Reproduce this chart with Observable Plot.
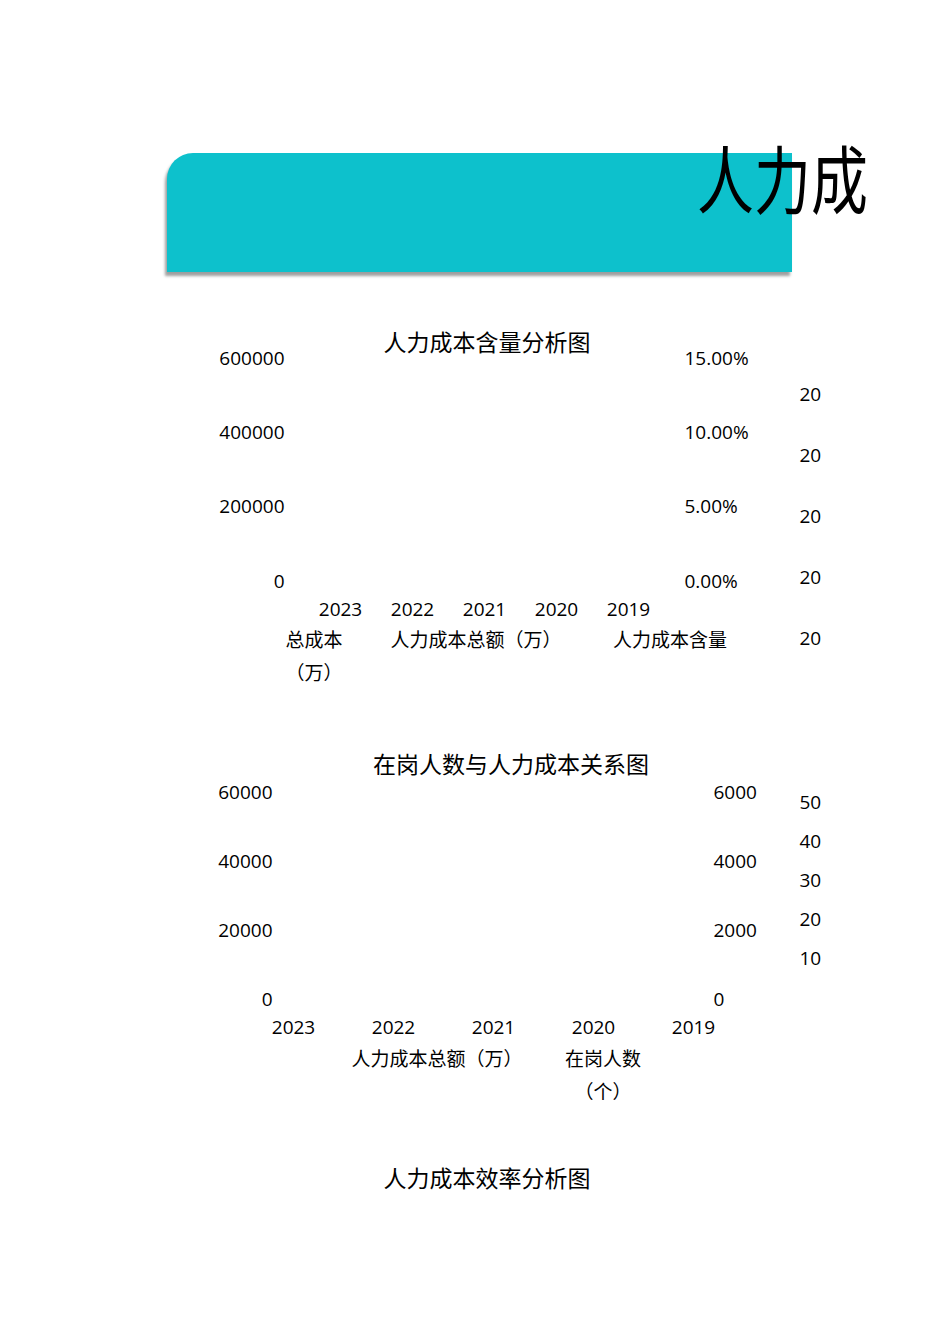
<!DOCTYPE html>
<html>
<head>
<meta charset="utf-8">
<script src="https://cdn.jsdelivr.net/npm/d3@7"></script>
<script src="https://cdn.jsdelivr.net/npm/@observablehq/plot@0.6"></script>
<style>
  html, body { margin: 0; padding: 0; background: #fff; }
  #page { position: relative; width: 950px; height: 1344px; background: #fff; overflow: hidden;
          font-family: 'Open Sans', 'Noto Sans CJK SC', sans-serif; color: #000; }
  .abs { position: absolute; }
  .banner { left: 167px; top: 153px; width: 625px; height: 119px; background: #0DC1CC;
            border-top-left-radius: 26px; box-shadow: -2px 4px 3px rgba(0,0,0,0.38); }
  .bigtitle { font-family: 'Noto Sans CJK SC', sans-serif; font-size: 74px; line-height: 74px;
              white-space: nowrap; transform-origin: 0 0; transform: scale(0.77, 1); color: #000; }
  .ctitle { font-family: 'Noto Sans CJK SC', sans-serif; font-size: 23px; line-height: 30px;
            white-space: nowrap; transform: translate(-50%, -50%); }
  .leg { font-family: 'Noto Sans CJK SC', sans-serif; font-size: 19px; line-height: 33px;
         text-align: center; transform: translate(-50%, 0); text-spacing-trim: space-all; }
  svg { overflow: visible; }
</style>
</head>
<body>
<div id="page"></div>
<script>
// ---------- data ----------
const pageTitle = "人力成";
const chartTitles = ["人力成本含量分析图", "在岗人数与人力成本关系图", "人力成本效率分析图"];
const years = ["2023", "2022", "2021", "2020", "2019"];

// chart 1
const costTicks1 = [0, 200000, 400000, 600000];      // 总成本 / 人力成本总额（万）
const ratioTicks1 = [0, 0.05, 0.10, 0.15];           // 人力成本含量
const sideYears1 = ["2023", "2022", "2021", "2020", "2019"]; // clipped side axis (only "20" visible)
const legend1 = [["总成本", "（万）"], ["人力成本总额（万）"], ["人力成本含量"]];

// chart 2
const costTicks2 = [0, 20000, 40000, 60000];         // 人力成本总额（万）
const headTicks2 = [0, 2000, 4000, 6000];            // 在岗人数（个）
const sideTicks2 = [10, 20, 30, 40, 50];
const legend2 = [["人力成本总额（万）"], ["在岗人数", "（个）"]];

// ---------- helpers ----------
const page = document.getElementById("page");
function place(el, left, top) {
  el.style.left = left + "px"; el.style.top = top + "px";
  page.appendChild(el);
  return el;
}
function div(cls, html) {
  const d = document.createElement("div");
  d.className = "abs " + cls;
  d.innerHTML = html;
  return d;
}
const svgStyle = {
  fontFamily: "'Open Sans', 'Noto Sans CJK SC', sans-serif",
  fontSize: "19px",
  color: "#000",
  background: "transparent",
  overflow: "visible"
};

// ---------- banner & page title ----------
place(div("banner", ""), 167, 153);
place(div("bigtitle", pageTitle), 697, 139);

// ---------- chart 1 ----------
place(div("ctitle", chartTitles[0]), 487, 341);
{
  const T = 320, H = 300, pad = 19;
  const ratio = costTicks1[costTicks1.length - 1] / ratioTicks1[ratioTicks1.length - 1];
  const p = Plot.plot({
    width: 950, height: H,
    marginTop: 358 - T, marginBottom: H - (581 - T),
    marginLeft: 284 + pad, marginRight: 950 - (684 - pad),
    style: svgStyle,
    x: {type: "point", domain: years, range: [339, 629], padding: 0},
    y: {domain: [0, costTicks1[costTicks1.length - 1]]},
    marks: [
      Plot.axisY({anchor: "left", ticks: costTicks1, tickSize: 0, tickPadding: pad, tickFormat: d => String(d), label: null}),
      Plot.axisY({anchor: "right", ticks: ratioTicks1.map(v => v * ratio), tickSize: 0, tickPadding: pad,
                  tickFormat: d => (d / ratio * 100).toFixed(2) + "%", label: null}),
      Plot.axisX({tickSize: 0, tickPadding: 21, tickFormat: d => d, label: null})
    ]
  });
  p.classList.add("abs");
  place(p, 0, T);

  const T2 = 370, H2 = 300;
  const side = Plot.plot({
    width: 950, height: H2, marginLeft: 0, marginRight: 950 - 799, marginTop: 0, marginBottom: 0,
    style: svgStyle,
    y: {type: "point", domain: sideYears1, range: [394 - T2, 638 - T2], padding: 0},
    marks: [
      Plot.axisY({anchor: "right", tickSize: 0, tickPadding: 0, tickFormat: d => d.slice(0, 2), label: null})
    ]
  });
  side.classList.add("abs");
  place(side, 0, T2);

  place(div("leg", legend1[0].join("<br>")), 314, 622).style.width = "70px";
  place(div("leg", legend1[1].join("<br>")), 476, 622).style.whiteSpace = "nowrap";
  place(div("leg", legend1[2].join("<br>")), 670, 622).style.whiteSpace = "nowrap";
}

// ---------- chart 2 ----------
place(div("ctitle", chartTitles[1]), 511, 763);
{
  const T = 770, H = 290, pad = 10;
  const ratio = costTicks2[costTicks2.length - 1] / headTicks2[headTicks2.length - 1];
  const p = Plot.plot({
    width: 950, height: H,
    marginTop: 792 - T, marginBottom: H - (999 - T),
    marginLeft: 272 + pad, marginRight: 950 - (713 - pad),
    style: svgStyle,
    x: {type: "point", domain: years, range: [292, 693], padding: 0},
    y: {domain: [0, costTicks2[costTicks2.length - 1]]},
    marks: [
      Plot.axisY({anchor: "left", ticks: costTicks2, tickSize: 0, tickPadding: pad, tickFormat: d => String(d), label: null}),
      Plot.axisY({anchor: "right", ticks: headTicks2.map(v => v * ratio), tickSize: 0, tickPadding: pad,
                  tickFormat: d => String(Math.round(d / ratio)), label: null}),
      Plot.axisX({tickSize: 0, tickPadding: 21, tickFormat: d => d, label: null})
    ]
  });
  p.classList.add("abs");
  place(p, 0, T);

  const T2 = 780, H2 = 230;
  const side = Plot.plot({
    width: 950, height: H2, marginLeft: 0, marginRight: 950 - 799, marginTop: 0, marginBottom: 0,
    style: svgStyle,
    y: {domain: [0, sideTicks2[sideTicks2.length - 1]], range: [997 - T2, 802 - T2]},
    marks: [
      Plot.axisY({anchor: "right", ticks: sideTicks2, tickSize: 0, tickPadding: 0, tickFormat: d => String(d), label: null})
    ]
  });
  side.classList.add("abs");
  place(side, 0, T2);

  place(div("leg", legend2[0].join("<br>")), 437, 1041).style.whiteSpace = "nowrap";
  place(div("leg", legend2[1].join("<br>")), 603, 1041).style.width = "80px";
}

// ---------- chart 3 ----------
place(div("ctitle", chartTitles[2]), 487, 1177);
</script>
</body>
</html>
